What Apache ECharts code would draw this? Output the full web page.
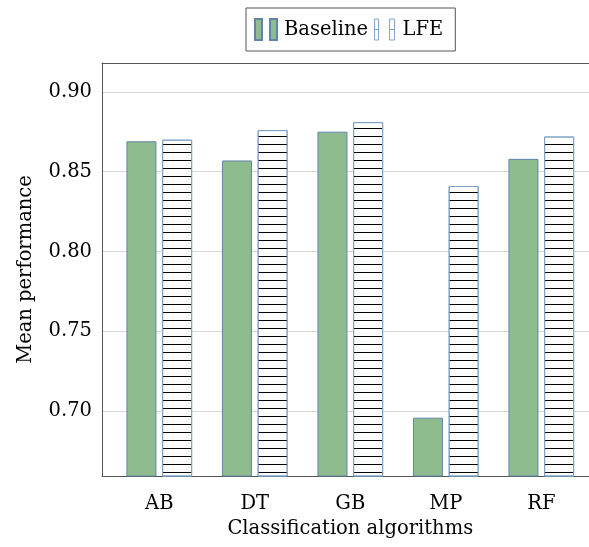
<!DOCTYPE html>
<html>
<head>
<meta charset="utf-8">
<script src="https://cdn.jsdelivr.net/npm/echarts@6/dist/echarts.min.js"></script>
<style>
html,body{margin:0;padding:0;background:#fff;}
#chart{width:589px;height:547px;}
</style>
</head>
<body>
<div id="chart"></div>
<script>
const categories = ['AB', 'DT', 'GB', 'MP', 'RF'];
const baseline = [0.869, 0.857, 0.875, 0.696, 0.858];
const lfe = [0.870, 0.876, 0.881, 0.841, 0.872];

const FONT = 'DejaVu Serif';
const FS = 19.5;

const chart = echarts.init(document.getElementById('chart'), null, {renderer: 'canvas'});

const toPairs = arr => arr.map((v, i) => [i, v]);

const stripeDecal = {
  symbol: 'rect',
  symbolSize: 1,
  symbolKeepAspect: false,
  color: '#000',
  backgroundColor: null,
  dashArrayX: [1, 0],
  dashArrayY: [1, 7],
  rotation: 0
};

const option = {
  animation: false,
  backgroundColor: '#fff',
  textStyle: {fontFamily: FONT, color: '#000'},
  legend: {
    left: 246,
    top: 8,
    orient: 'horizontal',
    padding: [10, 12, 10, 8],
    borderColor: '#555',
    borderWidth: 1,
    itemWidth: 22,
    itemHeight: 21,
    itemGap: 5,
    textStyle: {fontFamily: FONT, fontSize: FS, color: '#000', padding: [0, 0, 0, 2]},
    data: [
      {name: 'Baseline', icon: 'path://M0,0h7v21h-7zM15,0h7v21h-7z'},
      {name: 'LFE', icon: 'path://M0,0M1,0h4v21h-4zM1,10.5h4M16,0h5v21h-5zM16,10.5h5M22,21',
       itemStyle: {decal: 'none', color: '#fff', borderColor: '#7fa3c6', borderWidth: 1}}
    ]
  },
  grid: {left: 102, width: 496.6, top: 63, bottom: 71, containLabel: false, outerBoundsMode: 'none'},
  xAxis: [{
    type: 'value',
    min: -0.6,
    max: 4.6,
    position: 'bottom',
    axisLine: {show: true, onZero: false, lineStyle: {color: '#555', width: 1}},
    axisTick: {show: false},
    splitLine: {show: false},
    axisLabel: {
      show: true,
      customValues: [0, 1, 2, 3, 4],
      formatter: v => categories[Math.round(v)] || '',
      fontFamily: FONT, fontSize: FS, color: '#000', margin: 18
    },
    name: 'Classification algorithms',
    nameLocation: 'middle',
    nameGap: 42,
    nameTextStyle: {fontFamily: FONT, fontSize: FS, color: '#000'}
  }, {
    type: 'value',
    min: -0.6,
    max: 4.6,
    position: 'top',
    axisLine: {show: true, onZero: false, lineStyle: {color: '#555', width: 1}},
    axisTick: {show: false},
    splitLine: {show: false},
    axisLabel: {show: false}
  }],
  yAxis: {
    type: 'value',
    min: 0.6595,
    max: 0.918,
    splitNumber: 5,
    axisLine: {show: true, onZero: false, lineStyle: {color: '#555', width: 1}},
    axisTick: {show: false},
    splitLine: {show: true, showMinLine: false, showMaxLine: false, lineStyle: {color: '#d8d8d8', width: 1}},
    axisLabel: {
      showMinLabel: false,
      showMaxLabel: false,
      formatter: v => v.toFixed(2),
      fontFamily: FONT, fontSize: FS, color: '#000', margin: 10
    },
    name: 'Mean performance',
    nameLocation: 'middle',
    nameGap: 66,
    nameTextStyle: {fontFamily: FONT, fontSize: FS, color: '#000'}
  },
  series: [{
    name: 'Baseline',
    type: 'bar',
    xAxisIndex: 0,
    data: toPairs(baseline),
    barWidth: 30,
    barGap: '19%',
    itemStyle: {color: '#8fbc8f', borderColor: '#5f86a9', borderWidth: 1}
  }, {
    name: 'LFE',
    type: 'bar',
    xAxisIndex: 0,
    data: toPairs(lfe),
    barWidth: 30,
    barGap: '19%',
    itemStyle: {color: '#fff', borderColor: '#7fa3c6', borderWidth: 1, decal: stripeDecal}
  }]
};

chart.setOption(option);
</script>
</body>
</html>
